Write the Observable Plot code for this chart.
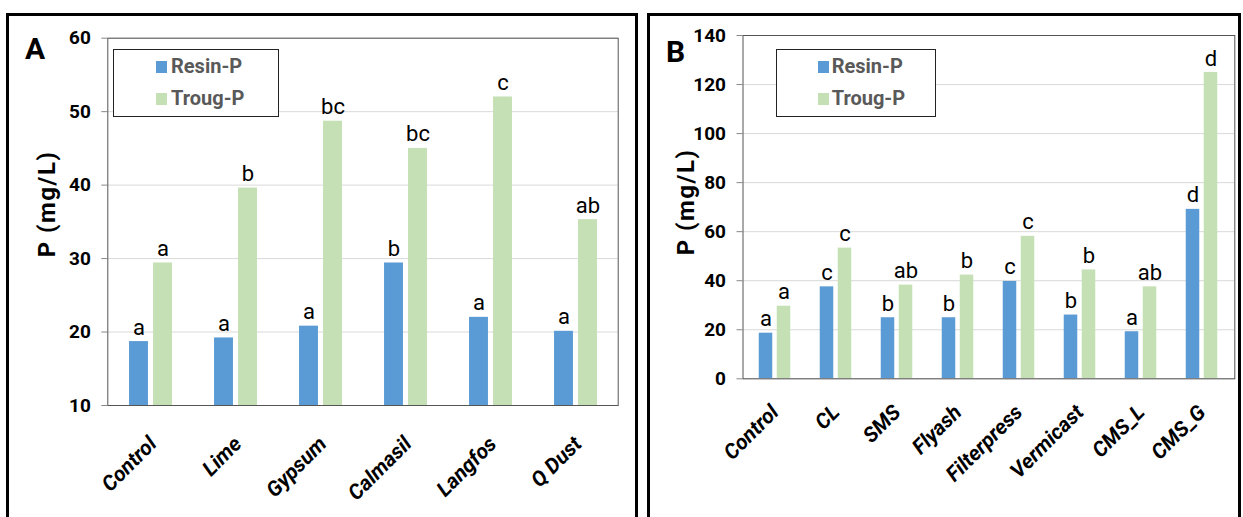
<!DOCTYPE html>
<html><head><meta charset="utf-8">
<script src="https://cdn.jsdelivr.net/npm/d3@7"></script>
<script src="https://cdn.jsdelivr.net/npm/@observablehq/plot@0.6"></script>
<style>
body{margin:0;background:#fff;}
#root{position:relative;width:1243px;height:517px;overflow:hidden;background:#fff;font-family:Roboto,sans-serif;}
.plotwrap{position:absolute;top:0;}
.plotwrap svg{overflow:visible;background:transparent;}
.panel{position:absolute;border:3px solid #000;box-sizing:border-box;}
.ylab{position:absolute;transform:translate(-50%,-50%) rotate(-90deg);font-family:Roboto,sans-serif;font-weight:bold;font-size:24px;letter-spacing:1.5px;white-space:nowrap;color:#000;}
.letter{position:absolute;font-family:Roboto,sans-serif;font-weight:bold;font-size:30px;line-height:30px;color:#000;}
.legend{position:absolute;border:1.4px solid #222;box-sizing:border-box;background:#fff;}
.sw{position:absolute;width:11px;height:12px;}
.lt{position:absolute;font-family:"Liberation Sans Narrow",Roboto,sans-serif;font-weight:bold;font-size:20px;line-height:20px;color:#595959;white-space:nowrap;}
</style></head>
<body>
<div id="root"></div>
<script>
// ---- data ----
const seriesNames = ["Resin-P", "Troug-P"];
const seriesColors = ["#5B9BD5", "#C5E0B4"];

const catsA = ["Control", "Lime", "Gypsum", "Calmasil", "Langfos", "Q Dust"];
const resinA = [18.7, 19.2, 20.8, 29.4, 22.0, 20.1];
const trougA = [29.4, 39.6, 48.7, 45.0, 52.0, 35.3];
const resinLettersA = ["a", "a", "a", "b", "a", "a"];
const trougLettersA = ["a", "b", "bc", "bc", "c", "ab"];
const yTicksA = [10, 20, 30, 40, 50, 60];

const catsB = ["Control", "CL", "SMS", "Flyash", "Filterpress", "Vermicast", "CMS_L", "CMS_G"];
const resinB = [18.6, 37.5, 24.9, 24.9, 39.7, 26.0, 19.2, 69.1];
const trougB = [29.6, 53.3, 38.2, 42.3, 58.1, 44.4, 37.5, 124.9];
const resinLettersB = ["a", "c", "b", "b", "c", "b", "a", "d"];
const trougLettersB = ["a", "c", "ab", "b", "c", "b", "ab", "d"];
const yTicksB = [0, 20, 40, 60, 80, 100, 120, 140];

const yLabel = "P (mg/L)";

const root = document.getElementById("root");

function makeChart(cfg) {
  const {cats, resin, troug, rl, tl, yTicks, width, height, ml, mr, mt, mb, barW, gap, xPad, xDx} = cfg;
  const resinRows = cats.map((c, i) => ({cat: c, value: resin[i], letter: rl[i]}));
  const trougRows = cats.map((c, i) => ({cat: c, value: troug[i], letter: tl[i]}));
  const band = (width - ml - mr) / cats.length;
  const half = band / 2;
  const off = gap / 2 + barW / 2;
  return Plot.plot({
    width, height,
    marginLeft: ml, marginRight: mr, marginTop: mt, marginBottom: mb,
    style: {fontFamily: "Roboto, sans-serif", color: "#000", background: "transparent", overflow: "visible"},
    x: {type: "band", domain: cats, paddingInner: 0, paddingOuter: 0},
    y: {domain: [yTicks[0], yTicks[yTicks.length - 1]]},
    marks: [
      Plot.gridY(yTicks, {stroke: "#d9d9d9", strokeOpacity: 1}),
      Plot.barY(resinRows, {x: "cat", y: "value", fill: seriesColors[0], insetLeft: half - gap / 2 - barW, insetRight: half + gap / 2, clip: true}),
      Plot.barY(trougRows, {x: "cat", y: "value", fill: seriesColors[1], insetLeft: half + gap / 2, insetRight: half - gap / 2 - barW, clip: true}),
      Plot.text(resinRows, {x: "cat", y: "value", text: "letter", dx: -off, dy: -7, lineAnchor: "bottom", fontSize: 22, fill: "#000"}),
      Plot.text(trougRows, {x: "cat", y: "value", text: "letter", dx: off, dy: -7, lineAnchor: "bottom", fontSize: 22, fill: "#000"}),
      Plot.frame({stroke: "#555"}),
      Plot.axisY(yTicks, {tickSize: 6, tickPadding: 11, stroke: "#888", fill: "#000", fontSize: 19, fontWeight: "bold", label: null}),
      Plot.axisX({tickRotate: -45, tickSize: 0, tickPadding: xPad, dx: xDx, fill: "#000", fontSize: 21, fontWeight: "bold", fontStyle: "italic", label: null})
    ]
  });
}

function add(el, cls, css, text) {
  const d = document.createElement("div");
  d.className = cls;
  Object.assign(d.style, css);
  if (text != null) d.textContent = text;
  root.appendChild(d);
  return d;
}

// Panel A
const wrapA = add("", "plotwrap", {left: "0px"});
wrapA.appendChild(makeChart({
  cats: catsA, resin: resinA, troug: trougA, rl: resinLettersA, tl: trougLettersA, yTicks: yTicksA,
  width: 637, height: 517, ml: 107.3, mr: 19.3, mt: 37.7, mb: 112,
  barW: 19, gap: 5, xPad: 35, xDx: 2
}));
// Panel B
const wrapB = add("", "plotwrap", {left: "640px"});
wrapB.appendChild(makeChart({
  cats: catsB, resin: resinB, troug: trougB, rl: resinLettersB, tl: trougLettersB, yTicks: yTicksB,
  width: 603, height: 517, ml: 102.5, mr: 8.7, mt: 35, mb: 138.7,
  barW: 14, gap: 4, xPad: 30, xDx: 0
}));

// panel borders
add("", "panel", {left: "6px", top: "13px", width: "632px", height: "600px"});
add("", "panel", {left: "647px", top: "13px", width: "594px", height: "600px"});

// panel letters
add("", "letter", {left: "25px", top: "34px"}, "A");
add("", "letter", {left: "666px", top: "37px"}, "B");

// y labels
add("", "ylab", {left: "47px", top: "204px"}, yLabel);
add("", "ylab", {left: "686px", top: "202px"}, yLabel);

// legends
function legend(x0, y0, w, h, swX, txX) {
  add("", "legend", {left: x0 + "px", top: y0 + "px", width: w + "px", height: h + "px"});
  seriesNames.forEach((s, i) => {
    const sy = i === 0 ? 60.7 : 92.5;
    add("", "sw", {left: swX + "px", top: sy + "px", background: seriesColors[i]});
    add("", "lt", {left: txX + "px", top: (sy - 4.5) + "px"}, s);
  });
}
legend(113.3, 49.3, 166, 67.4, 155.7, 171);
legend(775.7, 49.3, 160.5, 67.4, 817.7, 831.7);
</script>
</body></html>
